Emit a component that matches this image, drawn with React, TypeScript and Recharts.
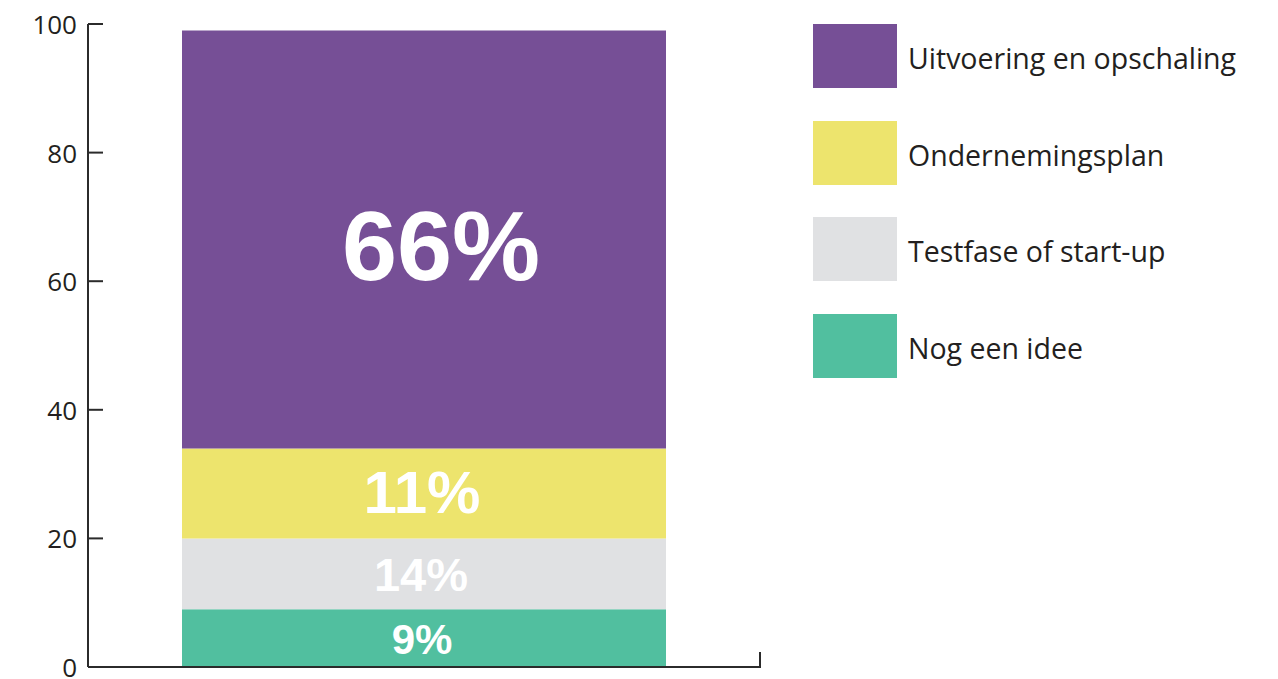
import React from 'react';
import { BarChart, Bar, XAxis, YAxis, LabelList } from 'recharts';

// bottom-up stack order
const categories = ['Fase'];
const seriesNames = ['Nog een idee', 'Testfase of start-up', 'Ondernemingsplan', 'Uitvoering en opschaling'];
const seriesValues = [9, 11, 14, 65];
const labelTexts = ['9%', '14%', '11%', '66%'];
const yTicks = [0, 20, 40, 60, 80, 100];

const colors = ['#51BF9F', '#E0E1E3', '#EDE46D', '#764F96'];
const labelSizes = [42, 47, 60, 99];
const labelDx = [-2, -3, -2, 17];
const labelDy = [1, 1, -1, 6];

const rows = categories.map((name) => {
  const row: Record<string, string | number> = { name };
  seriesValues.forEach((v, i) => {
    row['s' + i] = v;
  });
  return row;
});

const axisColor = '#2b2b2b';
const textColor = '#231F20';
const tickLen = 15;
const tickGap = 11;

function makeLabel(i: number) {
  return (props: any) => {
    const { x, y, width, height } = props;
    return (
      <text
        x={x + width / 2 + labelDx[i]}
        y={y + height / 2 + labelDy[i]}
        textAnchor="middle"
        dominantBaseline="central"
        fill="#ffffff"
        fontFamily="Liberation Sans, Arial, sans-serif"
        fontWeight="bold"
        fontSize={labelSizes[i]}
      >
        {labelTexts[i]}
      </text>
    );
  };
}

// y tick: label on the left, short tick line pointing into the plot
function YTick(props: any) {
  const { x, y, payload } = props;
  const axisX = x + tickGap;
  return (
    <g>
      {payload.value !== 0 && (
        <line x1={axisX} x2={axisX + tickLen} y1={y} y2={y} stroke={axisColor} strokeWidth={2} />
      )}
      <text x={x} y={y} textAnchor="end" dominantBaseline="central" fill={textColor} fontSize={26} fontFamily="Open Sans">
        {payload.value}
      </text>
    </g>
  );
}

// x axis has no labels, only an upward tick at the right end of the band
function XEndTick(props: any) {
  const { x, y, payload, width } = props;
  const half = payload && payload.offset ? payload.offset : width / 2;
  const endX = x + half;
  return <line x1={endX} x2={endX} y1={y + 1} y2={y - tickLen} stroke={axisColor} strokeWidth={2} />;
}

export default function App() {
  const legendOrder = [3, 2, 1, 0];
  return (
    <div style={{ position: 'absolute', left: 0, top: 0, width: 1278, height: 679, background: '#fff' }}>
      <BarChart width={1278} height={679} data={rows} margin={{ top: 24, right: 518, bottom: 0, left: 0 }}>
        <XAxis
          dataKey="name"
          height={12}
          tickSize={0}
          tickMargin={0}
          tickLine={false}
          axisLine={{ stroke: axisColor, strokeWidth: 2 }}
          tick={<XEndTick />}
        />
        <YAxis
          width={88}
          domain={[0, 100]}
          ticks={yTicks}
          interval={0}
          tickSize={0}
          tickMargin={tickGap}
          tickLine={false}
          axisLine={{ stroke: axisColor, strokeWidth: 2 }}
          tick={<YTick />}
        />
        {seriesNames.map((name, i) => (
          <Bar key={name} dataKey={'s' + i} name={name} stackId="a" fill={colors[i]} barSize={484} isAnimationActive={false}>
            <LabelList content={makeLabel(i)} />
          </Bar>
        ))}
      </BarChart>
      <div style={{ position: 'absolute', left: 813, top: 24, fontFamily: 'Open Sans', color: textColor }}>
        {legendOrder.map((i) => (
          <div key={seriesNames[i]} style={{ display: 'flex', alignItems: 'center', height: 64, marginBottom: 32.7 }}>
            <div style={{ width: 84, height: 64, background: colors[i] }} />
            <span style={{ marginLeft: 11, fontSize: 28.5, lineHeight: '64px', paddingTop: 4 }}>{seriesNames[i]}</span>
          </div>
        ))}
      </div>
    </div>
  );
}
